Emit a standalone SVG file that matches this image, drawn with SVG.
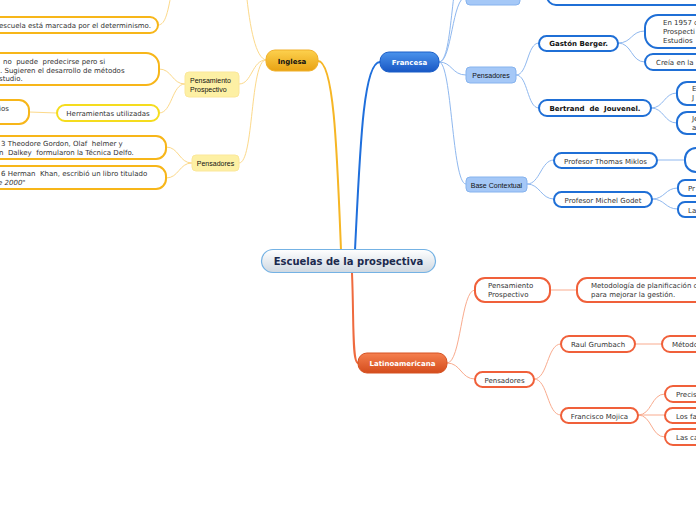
<svg xmlns="http://www.w3.org/2000/svg" width="696" height="520" viewBox="0 0 696 520">
<defs>
<linearGradient id="gY" x1="0" y1="0" x2="0" y2="1"><stop offset="0" stop-color="#fdd14e"/><stop offset="1" stop-color="#e8a213"/></linearGradient>
<linearGradient id="gB" x1="0" y1="0" x2="0" y2="1"><stop offset="0" stop-color="#4b93ec"/><stop offset="1" stop-color="#1857c4"/></linearGradient>
<linearGradient id="gR" x1="0" y1="0" x2="0" y2="1"><stop offset="0" stop-color="#f5804f"/><stop offset="1" stop-color="#d44c1c"/></linearGradient>
<linearGradient id="gC" x1="0" y1="0" x2="0" y2="1"><stop offset="0" stop-color="#ffffff"/><stop offset="1" stop-color="#cfd8e1"/></linearGradient>
</defs>
<style>
text{font-family:"DejaVu Sans",Verdana,sans-serif;font-size:7px;fill:#333;white-space:pre}
.t2{font-family:"Liberation Sans",Tahoma,Arial,sans-serif;font-size:7px;fill:#111}
.b{font-weight:bold;fill:#111}
.w{font-weight:bold;fill:#fff}
.c{text-anchor:middle}
.cy{fill:none;stroke:#fcd98a;stroke-width:1}
.cb{fill:none;stroke:#8fb8ef;stroke-width:1}
.cr{fill:none;stroke:#f9ab8e;stroke-width:1}
.ny{fill:#fff;stroke:#f7b619;stroke-width:2}
.nyy{fill:#fff;stroke:#f5dc1e;stroke-width:2}
.nb{fill:#fff;stroke:#1f6fd6;stroke-width:2}
.nr{fill:#fff;stroke:#f0603a;stroke-width:2}
.ly{fill:#fdf0a4;stroke:#fbe79a;stroke-width:1}
.lb{fill:#a5c8f7;stroke:#86b3ee;stroke-width:1}
</style>
<g id="connectors">
<path d="M341,250 C337,150 334,61 318,61" fill="none" stroke="#f6b625" stroke-width="2"/>
<path d="M355,250 C360,150 363,62 380,62" fill="none" stroke="#1f6fdc" stroke-width="2"/>
<path d="M352,273 C354,320 352,363 358,363" fill="none" stroke="#ef6a3e" stroke-width="2"/>
<path class="cy" d="M266,60 C256,58 250,30 246,-10"/>
<path class="cy" d="M158,25 C166,25 168,10 172,-10"/>
<path class="cy" d="M266,60 C252,60 252,84 239,84"/>
<path class="cy" d="M266,60 C250,60 254,163 239,163"/>
<path class="cy" d="M185,84 C172,84 172,69 159,69"/>
<path class="cy" d="M185,84 C172,84 172,113 159,113"/>
<path class="cy" d="M57,113 L29,112"/>
<path class="cy" d="M192,163 C179,163 179,147 166,147"/>
<path class="cy" d="M192,163 C179,163 179,178 166,178"/>
<path class="cb" d="M439,62 C452,62 452,-3 466,-3"/>
<path class="cb" d="M439,62 C454,62 450,-40 466,-40"/>
<path class="cb" d="M439,62 C452,62 452,75 466,75"/>
<path class="cb" d="M439,62 C452,62 452,184 466,184"/>
<path class="cb" d="M516,75 C528,75 527,43 539,43"/>
<path class="cb" d="M516,75 C528,75 527,108 539,108"/>
<path class="cb" d="M618,43 C632,43 631,31 645,31"/>
<path class="cb" d="M618,43 C632,43 631,62 645,62"/>
<path class="cb" d="M651,108 C664,108 664,93 677,93"/>
<path class="cb" d="M651,108 C664,108 664,123 677,123"/>
<path class="cb" d="M527,184 C540,184 541,160 554,160"/>
<path class="cb" d="M527,184 C540,184 541,199 554,199"/>
<path class="cb" d="M657,160 L685,160"/>
<path class="cb" d="M652,199 C665,199 665,188 678,188"/>
<path class="cb" d="M652,199 C665,199 665,209 678,209"/>
<path class="cr" d="M447,363 C461,363 461,290 475,290"/>
<path class="cr" d="M447,363 C461,363 461,379 475,379"/>
<path class="cr" d="M550,290 L577,290"/>
<path class="cr" d="M534,379 C548,379 547,344 561,344"/>
<path class="cr" d="M534,379 C548,379 547,415 561,415"/>
<path class="cr" d="M635,344 L662,344"/>
<path class="cr" d="M638,415 C652,415 651,394 665,394"/>
<path class="cr" d="M638,415 L665,415"/>
<path class="cr" d="M638,415 C652,415 651,437 665,437"/>
</g>
<g id="center">
<rect x="261.5" y="249.5" width="174" height="23" rx="11.5" fill="url(#gC)" stroke="#74b2e4" stroke-width="1.2"/>
<text x="348.5" y="265" class="c" style="font-size:10px;font-weight:bold;fill:#1b2a4e">Escuelas de la prospectiva</text>
</g>
<g id="inglesa">
<rect x="266" y="50" width="52" height="21" rx="9" fill="url(#gY)" stroke="#f0b02a" stroke-width="1"/>
<text x="292" y="64" class="c b">Inglesa</text>
</g>
<g id="ing-escuela">
<rect x="-20" y="17" width="178" height="16" rx="8" class="ny"/>
<text x="-1" y="28">escuela está marcada por el determinismo.</text>
</g>
<g id="ing-pp">
<rect x="185" y="72" width="54" height="25" rx="4" class="ly"/>
<text x="190" y="83" class="t2">Pensamiento</text>
<text x="190" y="92" class="t2">Prospectivo</text>
</g>
<g id="ing-pp-text">
<rect x="-20" y="53" width="179" height="32" rx="13" class="ny"/>
<text x="3" y="64">no  puede  predecirse pero si</text>
<text x="0" y="73">. Sugieren el desarrollo de métodos</text>
<text x="-1" y="81">studio.</text>
</g>
<g id="ing-herr">
<rect x="57" y="105" width="102" height="16" rx="8" class="nyy"/>
<text x="108" y="116" class="c">Herramientas utilizadas</text>
</g>
<g id="ing-herr-child">
<rect x="-20" y="100" width="49" height="24" rx="10" class="ny"/>
<text x="-1" y="111">ios</text>
</g>
<g id="ing-pens">
<rect x="192" y="155" width="47" height="16" rx="4" class="ly"/>
<text x="215.5" y="166" class="t2 c">Pensadores</text>
</g>
<g id="ing-pens-1">
<rect x="-20" y="136" width="186" height="23" rx="10" class="ny"/>
<text x="1" y="146">3 Theodore Gordon, Olaf  helmer y</text>
<text x="-1" y="155">n  Dalkey  formularon la Técnica Delfo.</text>
</g>
<g id="ing-pens-2">
<rect x="-20" y="166" width="186" height="23" rx="10" class="ny"/>
<text x="1" y="176">6 Herman  Khan, escribió un libro titulado</text>
<text x="-2" y="185"><tspan style="font-style:italic">e 2000</tspan>"</text>
</g>
<g id="francesa">
<rect x="380" y="52" width="59" height="20" rx="9" fill="url(#gB)" stroke="#1a5ec8" stroke-width="1"/>
<text x="409.5" y="65" class="c w">Francesa</text>
</g>
<g id="fr-top">
<rect x="466" y="-12" width="54" height="17" rx="4" class="lb"/>
<rect x="547" y="-14" width="170" height="19" rx="9" class="nb"/>
</g>
<g id="fr-pens">
<rect x="466" y="67" width="50" height="16" rx="4" class="lb"/>
<text x="491" y="78" class="t2 c">Pensadores</text>
</g>
<g id="fr-gaston">
<rect x="539" y="36" width="79" height="15" rx="7.5" class="nb"/>
<text x="578.5" y="46" class="c b">Gastón Berger.</text>
</g>
<g id="fr-gaston-1">
<rect x="645" y="15" width="80" height="33" rx="13" class="nb"/>
<text x="663" y="25">En 1957 c</text>
<text x="663" y="34">Prospecti</text>
<text x="663" y="43">Estudios</text>
</g>
<g id="fr-gaston-2">
<rect x="645" y="54" width="80" height="16" rx="8" class="nb"/>
<text x="656" y="65">Creía en la</text>
</g>
<g id="fr-bertrand">
<rect x="539" y="100" width="112" height="16" rx="8" class="nb"/>
<text x="595" y="111" class="c b">Bertrand  de  Jouvenel.</text>
</g>
<g id="fr-bertrand-1">
<rect x="677" y="82" width="40" height="23" rx="10" class="nb"/>
<text x="692" y="91">E</text>
<text x="692" y="100">J</text>
</g>
<g id="fr-bertrand-2">
<rect x="677" y="112" width="40" height="22" rx="10" class="nb"/>
<text x="692" y="121">Je</text>
<text x="692" y="130">a</text>
</g>
<g id="fr-base">
<rect x="466" y="177" width="61" height="15" rx="4" class="lb"/>
<text x="496.5" y="187.5" class="t2 c">Base Contextual</text>
</g>
<g id="fr-miklos">
<rect x="554" y="153" width="103" height="15" rx="7.5" class="nb"/>
<text x="605.5" y="163.5" class="c">Profesor Thomas Miklos</text>
</g>
<g id="fr-miklos-1">
<rect x="685" y="148" width="40" height="24" rx="11" class="nb"/>
</g>
<g id="fr-godet">
<rect x="554" y="192" width="98" height="15" rx="7.5" class="nb"/>
<text x="603" y="202.5" class="c">Profesor Michel Godet</text>
</g>
<g id="fr-godet-1">
<rect x="678" y="180" width="40" height="16" rx="7" class="nb"/>
<text x="688" y="191">Pr</text>
</g>
<g id="fr-godet-2">
<rect x="678" y="202" width="40" height="15" rx="7" class="nb"/>
<text x="688" y="212.5">La</text>
</g>
<g id="latinoamericana">
<rect x="358" y="353" width="89" height="20" rx="9" fill="url(#gR)" stroke="#d65222" stroke-width="1"/>
<text x="402.5" y="366" class="c w">Latinoamericana</text>
</g>
<g id="lat-pp">
<rect x="475" y="278" width="75" height="24" rx="10" class="nr"/>
<text x="488" y="288">Pensamiento</text>
<text x="488" y="297">Prospectivo</text>
</g>
<g id="lat-pp-1">
<rect x="577" y="278" width="150" height="24" rx="10" class="nr"/>
<text x="591" y="288">Metodología de planificación c</text>
<text x="591" y="297">para mejorar la gestión.</text>
</g>
<g id="lat-pens">
<rect x="475" y="372" width="59" height="15" rx="7.5" class="nr"/>
<text x="504.5" y="382.5" class="c">Pensadores</text>
</g>
<g id="lat-raul">
<rect x="561" y="336" width="74" height="16" rx="8" class="nr"/>
<text x="598" y="347" class="c">Raul Grumbach</text>
</g>
<g id="lat-raul-1">
<rect x="662" y="336" width="60" height="16" rx="8" class="nr"/>
<text x="672" y="347">Métodc</text>
</g>
<g id="lat-mojica">
<rect x="561" y="408" width="77" height="15" rx="7.5" class="nr"/>
<text x="599.5" y="418.5" class="c">Francisco Mojica</text>
</g>
<g id="lat-mojica-1">
<rect x="665" y="386" width="60" height="16" rx="8" class="nr"/>
<text x="676" y="397">Precis</text>
</g>
<g id="lat-mojica-2">
<rect x="665" y="408" width="60" height="15" rx="7.5" class="nr"/>
<text x="676" y="418.5">Los fa</text>
</g>
<g id="lat-mojica-3">
<rect x="665" y="429" width="60" height="16" rx="8" class="nr"/>
<text x="676" y="440">Las ca</text>
</g>
</svg>
